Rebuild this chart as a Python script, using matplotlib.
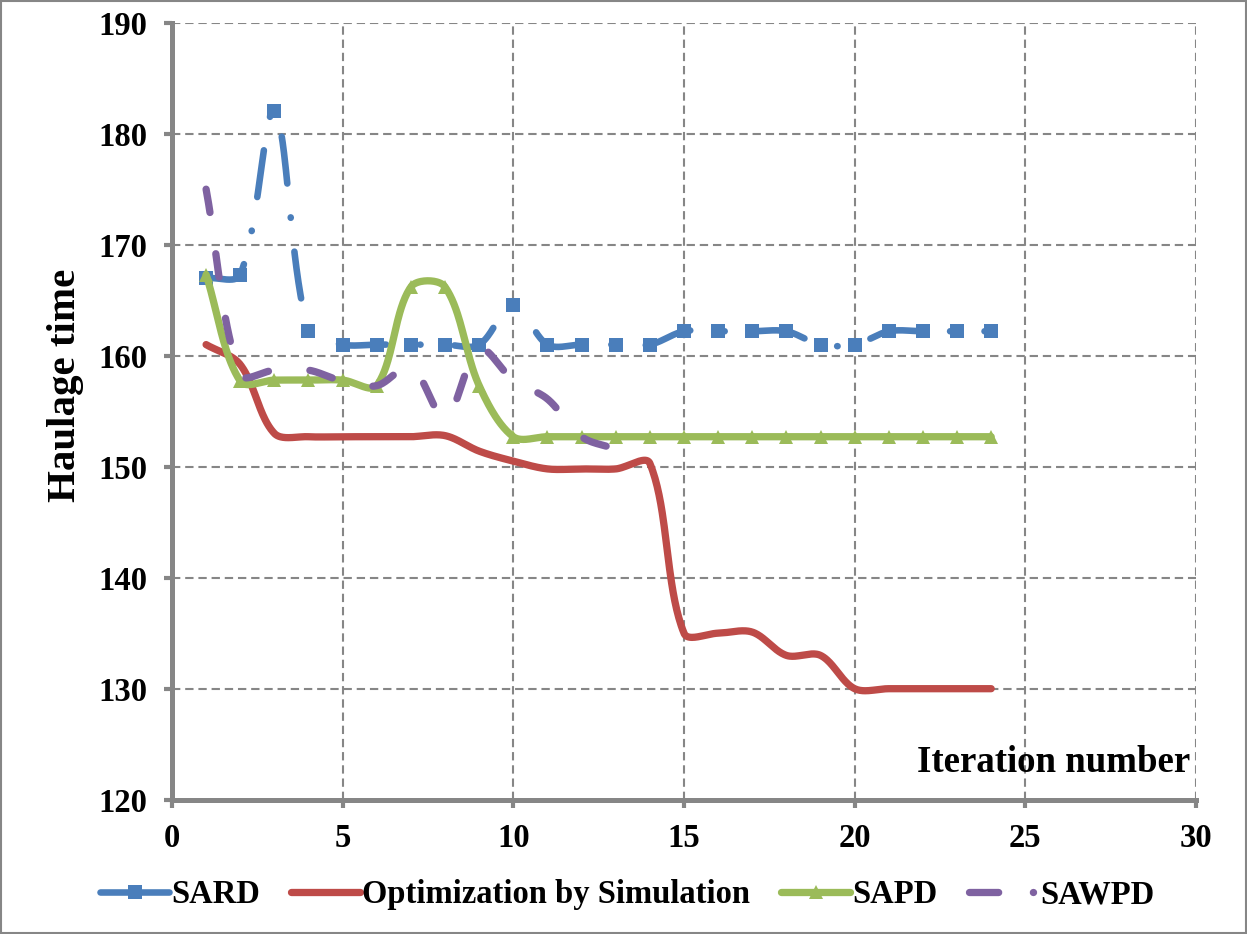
import numpy as np
import matplotlib
matplotlib.use("Agg")
import matplotlib.pyplot as plt
from matplotlib.lines import Line2D
from matplotlib.patches import Rectangle
from matplotlib.font_manager import FontProperties

# ---------------- data ----------------
iter_sard = list(range(1, 25))
sard = [167.0, 167.3, 182.0, 162.2, 161.0, 161.0, 161.0, 161.0, 161.0, 164.6,
        161.0, 161.0, 161.0, 161.0, 162.2, 162.2, 162.2, 162.2, 161.0, 161.0,
        162.2, 162.2, 162.2, 162.2]

iter_opt = list(range(1, 25))
opt_sim = [161.0, 159.2, 153.0, 152.7, 152.7, 152.7, 152.7, 152.8, 151.4, 150.5,
           149.8, 149.8, 149.8, 150.3, 135.0, 135.0, 135.1, 133.0, 133.0, 130.0,
           130.0, 130.0, 130.0, 130.0]

iter_sapd = list(range(1, 25))
sapd = [167.3, 157.7, 157.8, 157.8, 157.8, 157.3, 166.2, 166.2, 157.3, 152.7,
        152.7, 152.7, 152.7, 152.7, 152.7, 152.7, 152.7, 152.7, 152.7, 152.7,
        152.7, 152.7, 152.7, 152.7]

iter_sawpd = list(range(1, 14))
sawpd = [175.0, 158.3, 158.7, 158.7, 157.7, 157.3, 159.0, 154.4, 160.6, 157.8,
         156.1, 152.7, 151.6]

series_labels = ["SARD", "Optimization by Simulation", "SAPD", "SAWPD"]
x_ticks = [0, 5, 10, 15, 20, 25, 30]
y_ticks = [120, 130, 140, 150, 160, 170, 180, 190]

# ---------------- style ----------------
BLUE = "#4A7EBB"
RED = "#BE4B48"
GREEN = "#9BBB59"
PURPLE = "#7F62A1"
GREY = "#868686"

plt.rcParams["font.family"] = ["Liberation Serif", "DejaVu Serif"]
plt.rcParams["font.weight"] = "bold"
plt.rcParams["lines.scale_dashes"] = False

fig = plt.figure(figsize=(12.47, 9.34), dpi=100)
ax = fig.add_axes([0.1379, 0.1438, 0.8212, 0.8319])
ax.set_xlim(0, 30)
ax.set_ylim(120, 190)


def excel_smooth(ax, xs, ys, samples=40):
    """Excel-style smoothed line (Bezier through the data points)."""
    P = ax.transData.transform(np.column_stack([xs, ys]).astype(float))
    n = len(P)
    t = np.linspace(0, 1, samples)[1:]
    out = [P[0]]
    for i in range(n - 1):
        p1, p2 = P[i], P[i + 1]
        p0 = P[i - 1] if i > 0 else p1
        p3 = P[i + 2] if i + 2 < n else p2
        d01 = np.hypot(*(p1 - p0))
        d12 = np.hypot(*(p2 - p1))
        d23 = np.hypot(*(p3 - p2))
        c1 = p1 + (p2 - p0) / 3.0 * (d12 / (d01 + d12))
        c2 = p2 - (p3 - p1) / 3.0 * (d12 / (d12 + d23))
        B = (((1 - t) ** 3)[:, None] * p1 + (3 * (1 - t) ** 2 * t)[:, None] * c1
             + (3 * (1 - t) * t ** 2)[:, None] * c2 + (t ** 3)[:, None] * p2)
        out.extend(B)
    out = ax.transData.inverted().transform(np.array(out))
    return out[:, 0], out[:, 1]


# grid
ax.set_xticks(x_ticks)
ax.set_yticks(y_ticks)
ax.grid(True, color=GREY, lw=1.5, linestyle=(0, (6, 3.5)), zorder=0)
ax.set_axisbelow(True)

for s in ["top", "right"]:
    ax.spines[s].set_visible(False)
for s in ["left", "bottom"]:
    ax.spines[s].set_color(GREY)
    ax.spines[s].set_linewidth(3.6)
    ax.spines[s].set_zorder(1)

ax.tick_params(axis="both", direction="out", length=5.5, width=3, color=GREY,
               labelsize=23.5, labelcolor="black")
ax.tick_params(axis="x", pad=11)
ax.tick_params(axis="y", pad=12)
for lab in ax.get_xticklabels() + ax.get_yticklabels():
    lab.set_fontweight("bold")

# SARD
sx, sy = excel_smooth(ax, iter_sard, sard)
ax.plot(sx, sy, color=BLUE, lw=4.75, linestyle=(0, (34, 24.5, 0.3, 24.5)),
        dash_capstyle="round", solid_capstyle="round", zorder=2)
ax.plot(iter_sard, sard, linestyle="none", marker="s", ms=10, color=BLUE,
        markeredgewidth=0, zorder=2.1)

# Optimization by Simulation
ox, oy = excel_smooth(ax, iter_opt, opt_sim)
ax.plot(ox, oy, color=RED, lw=5.25, solid_capstyle="round",
        solid_joinstyle="round", zorder=3)

# SAPD
gx, gy = excel_smooth(ax, iter_sapd, sapd)
ax.plot(gx, gy, color=GREEN, lw=5.25, solid_capstyle="round",
        solid_joinstyle="round", zorder=4)
ax.plot(iter_sapd, sapd, linestyle="none", marker="^", ms=10.5, color=GREEN,
        markeredgewidth=0, zorder=4.1)

# SAWPD
px, py = excel_smooth(ax, iter_sawpd, sawpd)
ax.plot(px, py, color=PURPLE, lw=5.25, linestyle=(0, (17, 30)),
        dash_capstyle="round", zorder=5)

# axis titles
fig.text(65 / 1247, 1 - 385 / 934, "Haulage time", rotation=90, ha="center",
         va="center", fontsize=29.5, fontweight="bold")
ax.text(0.994, 0.048, "Iteration number", transform=ax.transAxes, ha="right",
        va="center", fontsize=26.6, fontweight="bold")

# legend
handles = [
    Line2D([], [], color=BLUE, lw=4.75, marker="s", ms=10, markeredgewidth=0,
           solid_capstyle="round"),
    Line2D([], [], color=RED, lw=5.25, solid_capstyle="round"),
    Line2D([], [], color=GREEN, lw=5.25, marker="^", ms=10, markeredgewidth=0,
           solid_capstyle="round"),
    Line2D([], [], color=PURPLE, lw=5.25, linestyle=(0, (21, 25, 0.1, 100)),
           dash_capstyle="round"),
]
fig.legend(handles, series_labels, loc="center", bbox_to_anchor=(0.503, 0.042),
           ncol=4, frameon=False, handlelength=2.1, handletextpad=0.08,
           columnspacing=0.95, numpoints=1,
           prop=FontProperties(family=["Liberation Serif", "DejaVu Serif"],
                               weight="bold", size=23.5))

# figure border
fig.patches.append(Rectangle((0.0008, 0.001), 0.9984, 0.998,
                             transform=fig.transFigure, fill=False,
                             edgecolor=GREY, lw=1.5))

fig.savefig("out.png", dpi=100)
